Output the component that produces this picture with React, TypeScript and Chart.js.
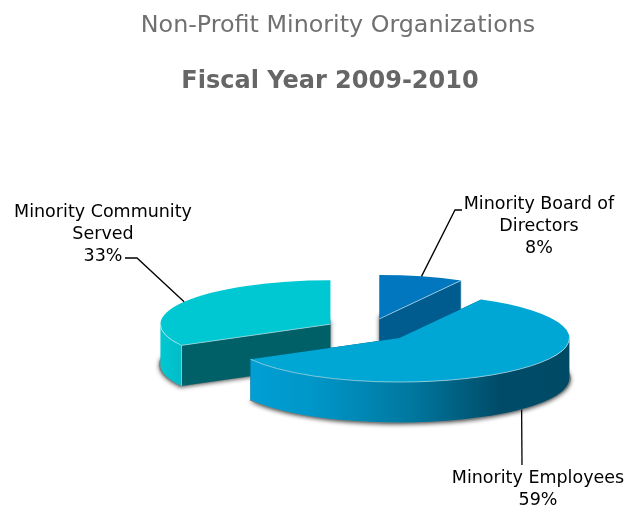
import React, { useEffect, useRef } from "react";
import { Chart, registerables } from "chart.js";

Chart.register(...registerables);

const categories = ["Minority Board of Directors", "Minority Employees", "Minority Community Served"];
const shares = [8, 59, 33];
const topColors = ["#0077BE", "#00A6D4", "#00C8D2"];
const innerColors = ["#005C8F", "#004C68", "#006068"];
const labelLines = [
  ["Minority Board of", "Directors", "8%"],
  ["Minority Employees", "59%"],
  ["Minority Community", "Served", "33%"],
];

const DRAW_ORDER = [0, 2, 1];
const CX = 368.3, CY = 330, RADIUS = 170, RY = 44, DEPTH = 40.5, EXPLODE = 44;
const K = RY / RADIUS;
const LABEL_POS = [
  { x: 539, y: 204.5 },
  { x: 538, y: 478 },
  { x: 103, y: 212.5 },
];
const LINE_H = 22;
const LEADERS = [
  { pts: [[455, 210], [462, 210]], depth: 0, dx: 0 },
  { pts: [[522, 465]], depth: 1, dx: 2 },
  { pts: [[137, 258], [125, 258]], depth: 0, dx: 0 },
];

function geom(arc: any) {
  const a = arc.startAngle, b = arc.endAngle, m = (a + b) / 2;
  return { a, b, m, cx: CX + EXPLODE * Math.cos(m), cy: CY + EXPLODE * K * Math.sin(m) };
}

function sector(ctx: CanvasRenderingContext2D, cx: number, cy: number, a: number, b: number, r = RADIUS, ry = RY) {
  ctx.beginPath();
  ctx.moveTo(cx, cy);
  ctx.ellipse(cx, cy, r, ry, 0, a, b);
  ctx.closePath();
}

function frontRanges(a: number, b: number) {
  const out: [number, number][] = [];
  for (let k = -1; k <= 1; k++) {
    const s = Math.max(a, 2 * Math.PI * k), e = Math.min(b, Math.PI + 2 * Math.PI * k);
    if (e > s) out.push([s, e]);
  }
  return out;
}

function wallFill(ctx: CanvasRenderingContext2D, i: number, s: number, e: number, cx: number) {
  const g = ctx.createLinearGradient(cx + RADIUS * Math.cos(e), 0, cx + RADIUS * Math.cos(s), 0);
  if (i === 1) {
    g.addColorStop(0, "#009FD4");
    g.addColorStop(0.2, "#0096C8");
    g.addColorStop(0.5, "#0078A0");
    g.addColorStop(0.78, "#004C68");
    g.addColorStop(1, "#004A66");
  } else {
    g.addColorStop(0, "#00C8D2");
    g.addColorStop(1, "#00BCC8");
  }
  return g;
}

const pie3d = {
  id: "pie3d",
  afterLayout(chart: any) {
    const t = chart.boxes.find((b: any) => b.options && b.options.text === "Non-Profit Minority Organizations");
    if (t) { t.left += 8; t.right += 8; }
  },
  beforeDatasetDraw(chart: any) {
    const ctx: CanvasRenderingContext2D = chart.ctx;
    const arcs = chart.getDatasetMeta(0).data;
    DRAW_ORDER.forEach((i) => {
      const arc = arcs[i];
      const { a, b, cx, cy } = geom(arc);
      // soft shadow below the slice floor
      ctx.save();
      ctx.shadowColor = "rgba(70,70,70,0.9)";
      ctx.shadowBlur = 4;
      ctx.shadowOffsetY = 1;
      ctx.fillStyle = "#808080";
      sector(ctx, cx, cy + DEPTH, a, b, RADIUS + 1.5, RY + 1);
      ctx.fill();
      ctx.restore();
      // radial walls
      ctx.fillStyle = innerColors[i];
      [a, b].forEach((t) => {
        const ex = cx + RADIUS * Math.cos(t), ey = cy + RY * Math.sin(t);
        ctx.beginPath();
        ctx.moveTo(cx, cy);
        ctx.lineTo(ex, ey);
        ctx.lineTo(ex, ey + DEPTH);
        ctx.lineTo(cx, cy + DEPTH);
        ctx.closePath();
        ctx.fill();
      });
      // outer wall
      const ranges = frontRanges(a, b);
      ranges.forEach(([s, e]) => {
        ctx.fillStyle = wallFill(ctx, i, s, e, cx);
        ctx.beginPath();
        ctx.ellipse(cx, cy, RADIUS, RY, 0, s, e);
        ctx.ellipse(cx, cy + DEPTH, RADIUS, RY, 0, e, s, true);
        ctx.closePath();
        ctx.fill();
      });
      // top, drawn by the library's own arc element
      ctx.save();
      ctx.translate(cx, cy);
      ctx.scale(1, K);
      ctx.translate(-arc.x, -arc.y);
      arc.draw(ctx);
      ctx.restore();
      // light edge highlights
      ctx.save();
      ctx.strokeStyle = "rgba(215,235,240,0.6)";
      ctx.lineWidth = 1;
      ranges.forEach(([s, e]) => {
        ctx.beginPath();
        ctx.ellipse(cx, cy, RADIUS, RY, 0, s, e);
        ctx.stroke();
      });
      if (-Math.cos(a) > 0.2) {
        ctx.beginPath();
        ctx.moveTo(cx, cy);
        ctx.lineTo(cx + RADIUS * Math.cos(a), cy + RY * Math.sin(a));
        ctx.lineTo(cx + RADIUS * Math.cos(a), cy + RY * Math.sin(a) + DEPTH);
        ctx.stroke();
      }
      if (Math.cos(b) > 0.2) {
        ctx.beginPath();
        ctx.moveTo(cx, cy);
        ctx.lineTo(cx + RADIUS * Math.cos(b), cy + RY * Math.sin(b));
        ctx.lineTo(cx + RADIUS * Math.cos(b), cy + RY * Math.sin(b) + DEPTH);
        ctx.stroke();
      }
      ctx.restore();
    });
    return false;
  },
  afterDatasetsDraw(chart: any) {
    const ctx: CanvasRenderingContext2D = chart.ctx;
    const arcs = chart.getDatasetMeta(0).data;
    ctx.save();
    arcs.forEach((arc: any, i: number) => {
      const { m, cx, cy } = geom(arc);
      const l = LEADERS[i];
      ctx.strokeStyle = "#000";
      ctx.lineWidth = 1.3;
      ctx.beginPath();
      ctx.moveTo(cx + RADIUS * Math.cos(m) + l.dx, cy + RY * Math.sin(m) + l.depth * DEPTH);
      l.pts.forEach(([x, y]) => ctx.lineTo(x, y));
      ctx.stroke();
      ctx.fillStyle = "#000";
      ctx.font = "17.5px 'DejaVu Sans'";
      ctx.textAlign = "center";
      ctx.textBaseline = "middle";
      labelLines[i].forEach((line, j) => {
        ctx.fillText(line, LABEL_POS[i].x, LABEL_POS[i].y + j * LINE_H);
      });
    });
    ctx.restore();
  },
};

export default function App() {
  const ref = useRef<HTMLCanvasElement>(null);
  useEffect(() => {
    document.body.style.margin = "0";
    const chart = new Chart(ref.current!, {
      type: "pie",
      data: {
        labels: categories,
        datasets: [{ data: shares, backgroundColor: topColors, borderWidth: 0, radius: RADIUS }],
      },
      options: {
        responsive: false,
        animation: false,
        rotation: 0,
        layout: { padding: { left: 30, right: 0, top: 0, bottom: 0 } },
        plugins: {
          legend: { display: false },
          tooltip: { enabled: false },
          title: {
            display: true,
            text: "Non-Profit Minority Organizations",
            color: "#707070",
            font: { family: "'DejaVu Sans'", size: 23.8, weight: "normal" },
            padding: { top: 12, bottom: 27 },
          },
          subtitle: {
            display: true,
            text: "Fiscal Year 2009-2010",
            color: "#666666",
            font: { family: "'DejaVu Sans'", size: 24, weight: "bold" },
            padding: { top: 0, bottom: 10 },
          },
        },
      },
      plugins: [pie3d],
    } as any);
    return () => chart.destroy();
  }, []);
  return <canvas ref={ref} width={630} height={506} style={{ display: "block" }} />;
}
